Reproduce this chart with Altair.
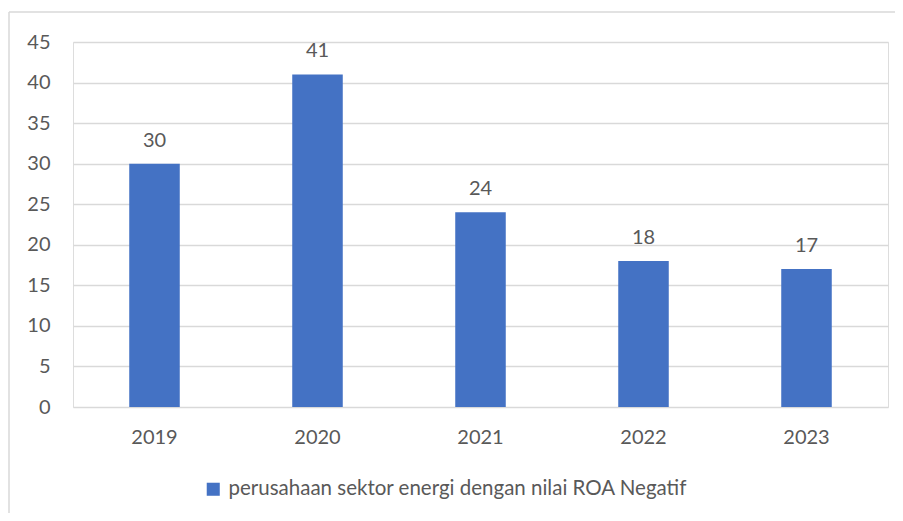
import altair as alt
import pandas as pd

years = ["2019", "2020", "2021", "2022", "2023"]
values = [30, 41, 24, 18, 17]
series_name = "perusahaan sektor energi dengan nilai ROA Negatif"
y_ticks = [0, 5, 10, 15, 20, 25, 30, 35, 40, 45]

df = pd.DataFrame({"year": years, "value": values, "series": [series_name] * len(years)})

FONT = "Lato"
TXT = "#595959"
FS = 20
BORDER = "#D9D9D9"

one = pd.DataFrame({"a": [0]})
border_left = alt.Chart(one).mark_rule(color=BORDER, strokeWidth=1.5, clip=False).encode(
    x=alt.value(-64), y=alt.value(-30), y2=alt.value(600)
)
border_top = alt.Chart(one).mark_rule(color=BORDER, strokeWidth=1.5, clip=False).encode(
    x=alt.value(-64), x2=alt.value(900), y=alt.value(-30)
)

bars = alt.Chart(df).mark_bar(color="#4472C4").encode(
    x=alt.X("year:N", sort=years,
            scale=alt.Scale(paddingInner=0.69, paddingOuter=0.345),
            axis=alt.Axis(title=None, labelAngle=0, domain=False, ticks=False,
                          labelPadding=20, labelFontSize=FS, labelFont=FONT,
                          labelColor=TXT, grid=False)),
    y=alt.Y("value:Q", scale=alt.Scale(domain=[0, 45], nice=False),
            axis=alt.Axis(title=None, values=y_ticks, domain=False, ticks=False,
                          labelPadding=23, labelFontSize=FS, labelFont=FONT,
                          labelColor=TXT, grid=True, gridColor="#D9D9D9",
                          gridWidth=1.3)),
    fill=alt.Fill("series:N", scale=alt.Scale(range=["#4472C4"]),
                  legend=alt.Legend(title=None, orient="none", legendX=130, legendY=437,
                                    symbolType="square", symbolSize=170,
                                    symbolStrokeWidth=0, labelFontSize=20.5,
                                    labelFont=FONT, labelColor=TXT, labelOffset=5,
                                    labelLimit=800)),
)

labels = alt.Chart(df).mark_text(
    baseline="alphabetic", dy=-17, fontSize=FS, font=FONT, color=TXT
).encode(
    x=alt.X("year:N", sort=years),
    y=alt.Y("value:Q"),
    text="value:Q",
)

chart = alt.layer(bars, labels, border_left, border_top).properties(
    width=815, height=365,
    autosize=alt.AutoSizeParams(type="none"),
    padding={"left": 65, "top": 34, "right": 7, "bottom": 106},
).configure_view(stroke=None).configure(background="white")

chart.save("out.html", embed_options={"renderer": "svg", "actions": False})
